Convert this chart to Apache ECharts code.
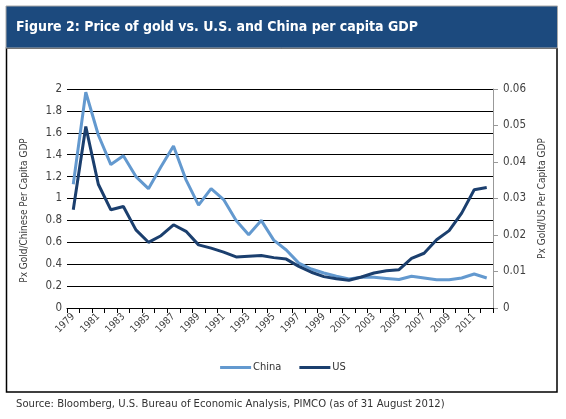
<!DOCTYPE html>
<html>
<head>
<meta charset="utf-8">
<script src="https://cdn.jsdelivr.net/npm/echarts@6/dist/echarts.min.js"></script>
<style>
html,body{margin:0;padding:0;background:#fff;}
#c{width:566px;height:419px;}
</style>
</head>
<body>
<div id="c"></div>
<script>
var years = ['1979','1980','1981','1982','1983','1984','1985','1986','1987','1988','1989','1990','1991','1992','1993','1994','1995','1996','1997','1998','1999','2000','2001','2002','2003','2004','2005','2006','2007','2008','2009','2010','2011','2012'];
var china = [1.13,1.97,1.58,1.31,1.39,1.20,1.09,1.29,1.48,1.17,0.94,1.09,0.99,0.80,0.67,0.80,0.62,0.53,0.41,0.356,0.32,0.29,0.265,0.28,0.28,0.27,0.26,0.29,0.274,0.258,0.258,0.274,0.31,0.274];
var us = [0.0269,0.0497,0.0339,0.0269,0.0278,0.0214,0.0180,0.0198,0.0228,0.0210,0.0173,0.0164,0.0153,0.0140,0.0142,0.0144,0.0138,0.0134,0.0114,0.0098,0.0086,0.0080,0.0076,0.0085,0.0096,0.0102,0.0105,0.0136,0.0150,0.0187,0.0212,0.0260,0.0324,0.0330];
var leftTicks = {min:0, max:2, interval:0.2};
var rightTicks = {min:0, max:0.06, interval:0.01};

var FONT = "'Liberation Sans Narrow','DejaVu Sans Condensed','Open Sans',sans-serif";
var chart = echarts.init(document.getElementById('c'), null, {renderer:'canvas'});
chart.setOption({
  backgroundColor:'#fff',
  animation:false,
  textStyle:{fontFamily:FONT},
  graphic:[
    {type:'rect', shape:{x:6.5,y:48,width:550.5,height:344}, style:{fill:'#fff',stroke:'#000',lineWidth:1.5}, z:-10, silent:true},
    {type:'rect', shape:{x:6,y:6,width:551.5,height:42}, style:{fill:'#1c4a7e',stroke:'#a9a9a9',lineWidth:1}, z:-9, silent:true},
    {type:'text', left:16, top:20, style:{text:'Figure 2: Price of gold vs. U.S. and China per capita GDP', fill:'#fff', font:"bold 14px "+FONT}, z:10},
    {type:'text', left:16, top:399, style:{text:'Source: Bloomberg, U.S. Bureau of Economic Analysis, PIMCO (as of 31 August 2012)', fill:'#333', font:"11.2px "+FONT}, z:10}
  ],
  grid:{left:67, right:73, top:89, bottom:111, containLabel:false},
  legend:{
    data:['China','US'], left:'center', top:357, itemWidth:31, itemHeight:3, itemGap:18, icon:'rect',
    textStyle:{fontSize:11, color:'#333', fontFamily:FONT, padding:[0,0,0,-3]}
  },
  xAxis:{
    type:'category', data:years, boundaryGap:true,
    axisLine:{lineStyle:{color:'#000',width:1}},
    axisTick:{show:true, alignWithLabel:false, interval:0, length:5, lineStyle:{color:'#000'}},
    axisLabel:{interval:1, rotate:45, margin:7, fontSize:10, color:'#404040', fontFamily:FONT},
    splitLine:{show:false}
  },
  yAxis:[
    {type:'value', min:leftTicks.min, max:leftTicks.max, interval:leftTicks.interval, position:'left',
     name:'Px Gold/Chinese Per Capita GDP', nameLocation:'middle', nameGap:38,
     nameTextStyle:{fontSize:10, color:'#404040', fontFamily:FONT, padding:[0,0,0,-24]},
     axisLine:{show:false}, axisTick:{show:false},
     axisLabel:{fontSize:11.5, color:'#404040', margin:5, fontFamily:FONT},
     splitLine:{show:true, lineStyle:{color:'#000', width:1}}},
    {type:'value', min:rightTicks.min, max:rightTicks.max, interval:rightTicks.interval, position:'right',
     name:'Px Gold/US Per Capita GDP', nameLocation:'middle', nameGap:41, nameRotate:90,
     nameTextStyle:{fontSize:10, color:'#404040', fontFamily:FONT},
     axisLine:{show:true, lineStyle:{color:'#999', width:1}},
     axisTick:{show:true, length:5, lineStyle:{color:'#999'}},
     axisLabel:{fontSize:11.5, color:'#404040', margin:10, fontFamily:FONT},
     splitLine:{show:false}}
  ],
  series:[
    {name:'China', type:'line', data:china, yAxisIndex:0, showSymbol:false, symbol:'none',
     lineStyle:{color:'#6399cf', width:3}, itemStyle:{color:'#6399cf'}, z:2},
    {name:'US', type:'line', data:us, yAxisIndex:1, showSymbol:false, symbol:'none',
     lineStyle:{color:'#1b3f6e', width:3}, itemStyle:{color:'#1b3f6e'}, z:3}
  ]
});
</script>
</body>
</html>
